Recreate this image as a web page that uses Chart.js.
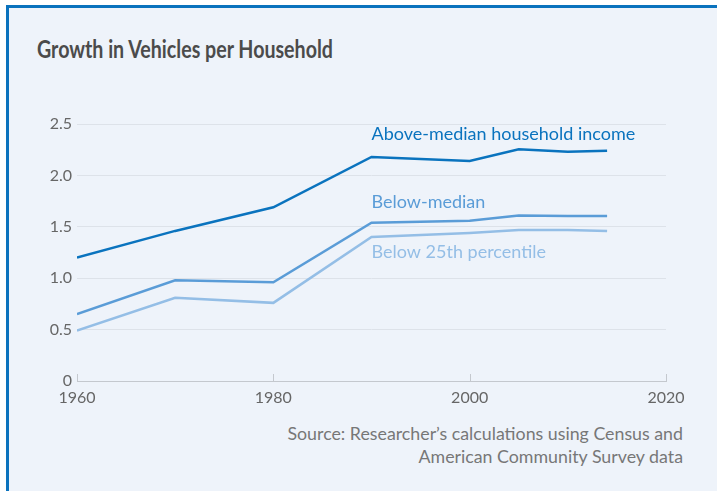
<!DOCTYPE html>
<html>
<head>
<meta charset="utf-8">
<script src="https://cdn.jsdelivr.net/npm/chart.js@4/dist/chart.umd.min.js"></script>
<style>
  html, body { margin: 0; padding: 0; background: #ffffff; }
  body { width: 717px; height: 491px; position: relative; overflow: hidden; font-family: "Lato", "Open Sans", sans-serif; }
  #frame { position: absolute; left: 6px; top: 5px; width: 711px; height: 486px;
           border-left: 3px solid #0a72bd; border-top: 3px solid #0a72bd; background: #eef3fa; box-sizing: border-box; }
  #title { position: absolute; left: 37px; top: 33px; font-size: 25px; font-weight: 700; color: #4b4b4b; white-space: nowrap;
           transform: scaleX(0.785); transform-origin: left center; }
  #source { position: absolute; right: 34px; top: 422px; font-size: 17.8px; color: #777; text-align: right; line-height: 23px; white-space: nowrap; }
  #c { position: absolute; left: 0; top: 0; }
</style>
</head>
<body>
<div id="frame"></div>
<div id="title">Growth in Vehicles per Household</div>
<div id="source">Source: Researcher’s calculations using Census and<br>American Community Survey data</div>
<canvas id="c" width="717" height="491"></canvas>
<script>
const years = [1960, 1970, 1980, 1990, 2000, 2005, 2010, 2014];
const aboveMedian = [1.20, 1.46, 1.69, 2.18, 2.14, 2.255, 2.23, 2.24];
const belowMedian = [0.65, 0.98, 0.96, 1.54, 1.56, 1.61, 1.605, 1.605];
const below25th = [0.49, 0.81, 0.76, 1.40, 1.44, 1.47, 1.47, 1.46];
const seriesNames = ["Above-median household income", "Below-median", "Below 25th percentile"];
const labelAnchors = [[1990, 2.40], [1990, 1.735], [1990, 1.25]];
const xTicks = [1960, 1980, 2000, 2020];
const yTicks = [0, 0.5, 1.0, 1.5, 2.0, 2.5];

const colors = ["#0a73be", "#5a9cd7", "#94bee6"];
const allSeries = [aboveMedian, belowMedian, below25th];

const datasets = allSeries.map((vals, i) => ({
  label: seriesNames[i],
  data: years.map((y, k) => ({ x: y, y: vals[k] })),
  borderColor: colors[i],
  backgroundColor: colors[i],
  borderWidth: 2.5,
  pointRadius: 0,
  tension: 0,
  fill: false
}));

const annot = {
  id: 'annot',
  afterDatasetsDraw(chart) {
    const ctx = chart.ctx, xs = chart.scales.x, ys = chart.scales.y;
    ctx.save();
    ctx.font = '18px Lato, "Open Sans", sans-serif';
    ctx.textBaseline = 'middle';
    ctx.textAlign = 'left';
    labelAnchors.forEach((a, i) => {
      ctx.fillStyle = colors[i];
      ctx.fillText(seriesNames[i], xs.getPixelForValue(a[0]), ys.getPixelForValue(a[1]));
    });
    ctx.strokeStyle = '#c4c8ce';
    ctx.lineWidth = 1;
    const b = ys.getPixelForValue(0);
    xTicks.forEach(t => {
      const px = Math.round(xs.getPixelForValue(t)) + 0.5;
      ctx.beginPath(); ctx.moveTo(px, b); ctx.lineTo(px, b - 7); ctx.stroke();
    });
    ctx.restore();
  }
};

new Chart(document.getElementById('c'), {
  type: 'line',
  data: { datasets },
  plugins: [annot],
  options: {
    responsive: false,
    animation: false,
    layout: { padding: { left: 0, top: 124, right: 51, bottom: 80 } },
    plugins: { legend: { display: false }, tooltip: { enabled: false } },
    scales: {
      x: {
        type: 'linear', min: 1960, max: 2020,
        afterBuildTicks: s => { s.ticks = xTicks.map(v => ({ value: v })); },
        afterFit: s => { s.height = 30; },
        grid: { display: false, drawTicks: false },
        border: { display: true, color: '#c4c8ce', width: 1 },
        ticks: { color: '#666', font: { family: 'Lato, "Open Sans", sans-serif', size: 16 }, padding: 7, maxRotation: 0, callback: v => String(v) }
      },
      y: {
        min: 0, max: 2.5,
        afterBuildTicks: s => { s.ticks = yTicks.map(v => ({ value: v })); },
        afterFit: s => { s.width = 77; },
        grid: { color: ctx => ctx.tick && ctx.tick.value === 0 ? 'rgba(0,0,0,0)' : '#dde2e9', drawTicks: false, lineWidth: 1 },
        border: { display: false },
        ticks: { color: '#666', font: { family: 'Lato, "Open Sans", sans-serif', size: 16 }, padding: 5,
                 callback: v => v === 0 ? '0' : v.toFixed(1) }
      }
    }
  }
});
</script>
</body>
</html>
